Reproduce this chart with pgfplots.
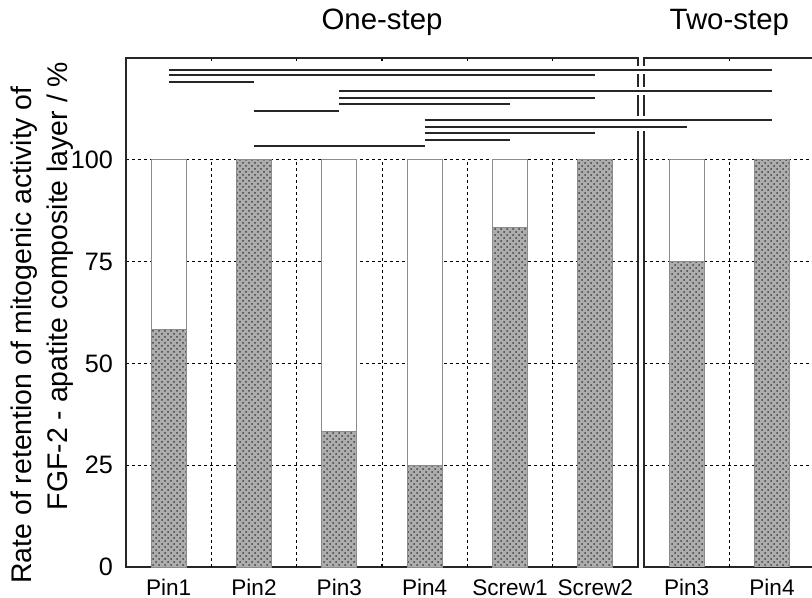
\documentclass[border=0pt]{standalone}
\usepackage{pgfplots}
\pgfplotsset{compat=1.18}
\usepackage{fontspec}
\setmainfont{Liberation Sans}
\usetikzlibrary{patterns}

\pgfplotsset{
  panel/.style={
    scale only axis,
    anchor=south west,
    height=254.5pt,
    ymin=0, ymax=125,
    ytick={0,25,50,75,100},
    ymajorgrids,
    grid style={black, line width=0.5pt, dash pattern=on 1.5pt off 1.5pt},
    major tick length=0pt,
    minor tick length=1.5pt,
    axis line style={black!85, line width=0.8pt},
    every tick/.style={black, line width=0.6pt},
    xticklabel style={font=\fontsize{11.3}{13}\selectfont, anchor=base, yshift=-14.5pt},
    yticklabel style={font=\fontsize{12.6}{14}\selectfont, xshift=-3pt},
    title style={font=\fontsize{14.7}{17}\selectfont, at={(0.5,1)}, anchor=base, yshift=8pt},
    /pgf/number format/assume math mode=true,
  },
  fullbar/.style={ybar, bar shift=0pt, bar width=0.41, fill=white, draw=black!45, line width=0.5pt},
  dotbar/.style={ybar, bar shift=0pt, bar width=0.41, fill=black!32, draw=black!45, line width=0.4pt,
    postaction={pattern=crosshatch dots, pattern color=black!75}},
  vgrid/.style={ycomb, black, line width=0.5pt, dash pattern=on 1.5pt off 1.5pt, mark=none},
}

\begin{document}
\begin{tikzpicture}
\path[use as bounding box] (0,0) rectangle (406pt,299pt);
\clip (0,0) rectangle (406pt,299pt);

% Two-step panel
\begin{axis}[panel, at={(322pt,15.5pt)}, width=85.3pt,
  xmin=5.57, xmax=7.57,
  xtick={6.07,7.07}, xticklabels={Pin3,Pin4},
  minor xtick={6.57},
  yticklabels={},
  title={Two-step}]
\addplot[vgrid] coordinates {(6.57,100)};
\addplot[fullbar] coordinates {(6.07,100) (7.07,100)};
\addplot[dotbar] coordinates {(6.07,75) (7.07,100)};
\end{axis}

% One-step panel
\begin{axis}[panel, at={(63pt,15.5pt)}, width=256pt,
  xmin=-0.5, xmax=5.5,
  xtick={0,1,2,3,4,5}, xticklabels={Pin1,Pin2,Pin3,Pin4,Screw1,Screw2},
  minor xtick={0.5,1.5,2.5,3.5,4.5},
  title={One-step}, clip=false]
\addplot[vgrid] coordinates {(0.5,100) (1.5,100) (2.5,100) (3.5,100) (4.5,100)};
\addplot[fullbar] coordinates {(0,100) (1,100) (2,100) (3,100) (4,100) (5,100)};
\addplot[dotbar] coordinates {(0,58.3) (1,100) (2,33.3) (3,25) (4,83.3) (5,100)};
\node[rotate=90, anchor=base, font=\fontsize{14.2}{17}\selectfont]
  at (axis description cs:-0.1836,0.456) {Rate of retention of mitogenic activity of};
\node[rotate=90, anchor=base, font=\fontsize{14.2}{17}\selectfont]
  at (axis description cs:-0.1133,0.552) {FGF-2 - apatite composite layer / \%};
\end{axis}

% Significance lines
\begin{axis}[scale only axis, anchor=south west, at={(63pt,15.5pt)},
  width=256pt, height=254.5pt, hide axis, clip=false,
  xmin=-0.5, xmax=5.5, ymin=0, ymax=125]
\addplot[white, line width=4pt, unbounded coords=jump] coordinates {
  (0,122.1) (7.07,122.1) (nan,nan)
  (2,116.8) (7.07,116.8) (nan,nan)
  (3,109.75) (7.07,109.75) (nan,nan)
  (3,108.1) (6.07,108.1)
};
\addplot[black!85, line width=1pt, unbounded coords=jump] coordinates {
  (0,122.1) (7.07,122.1) (nan,nan)
  (0,120.7) (5,120.7) (nan,nan)
  (0,119.0) (1,119.0) (nan,nan)
  (2,116.8) (7.07,116.8) (nan,nan)
  (2,115.1) (5,115.1) (nan,nan)
  (2,113.7) (4,113.7) (nan,nan)
  (1,112.1) (2,112.1) (nan,nan)
  (3,109.75) (7.07,109.75) (nan,nan)
  (3,108.1) (6.07,108.1) (nan,nan)
  (3,106.6) (5,106.6) (nan,nan)
  (3,104.8) (4,104.8) (nan,nan)
  (1,103.3) (3,103.3)
};
\end{axis}
\end{tikzpicture}
\end{document}
